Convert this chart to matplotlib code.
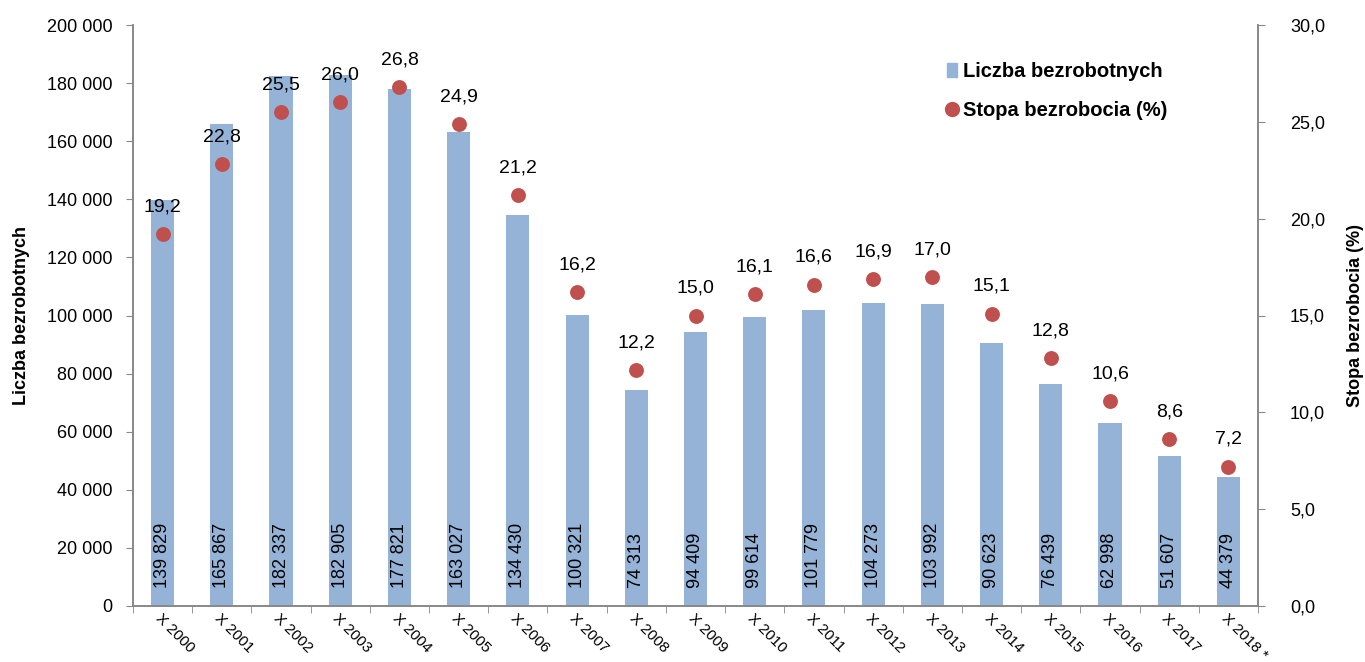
import matplotlib
matplotlib.use("Agg")
import matplotlib.pyplot as plt
from matplotlib.ticker import FuncFormatter, FixedLocator
import numpy as np

plt.rcParams['font.family'] = ['Liberation Sans', 'DejaVu Sans']

years = ["X 2000", "X 2001", "X 2002", "X 2003", "X 2004", "X 2005", "X 2006",
         "X 2007", "X 2008", "X 2009", "X 2010", "X 2011", "X 2012", "X 2013",
         "X 2014", "X 2015", "X 2016", "X 2017", "X 2018 *"]
unemployed = [139829, 165867, 182337, 182905, 177821, 163027, 134430, 100321,
              74313, 94409, 99614, 101779, 104273, 103992, 90623, 76439,
              62998, 51607, 44379]
rate = [19.2, 22.8, 25.5, 26.0, 26.8, 24.9, 21.2, 16.2, 12.2, 15.0, 16.1,
        16.6, 16.9, 17.0, 15.1, 12.8, 10.6, 8.6, 7.2]

bar_color = "#95b3d7"
dot_color = "#c0504d"
spine_color = "#888888"

def pl(v):
    return f"{int(v):,}".replace(",", " ")

fig = plt.figure(figsize=(13.65, 6.62), dpi=100)
ax = fig.add_axes([133 / 1365, 56 / 662, 1125 / 1365, 581 / 662])
ax2 = ax.twinx()

x = np.arange(len(years))
ax.bar(x, unemployed, width=0.39, color=bar_color, zorder=2)
for xi, v in zip(x, unemployed):
    ax.text(xi, 6300, pl(v), rotation=90, ha="center", va="bottom",
            fontsize=13, color="black", zorder=3)

ax2.scatter(x, rate, s=115, color=dot_color, zorder=4, linewidths=0)
for xi, r in zip(x, rate):
    ax2.text(xi, r + 1.4, f"{r:.1f}".replace(".", ","), ha="center",
             va="center", fontsize=14)

ax.set_xlim(-0.5, len(years) - 0.5)
ax.set_ylim(0, 200000)
ax.set_yticks(np.arange(0, 200001, 20000))
ax.yaxis.set_major_formatter(FuncFormatter(lambda v, p: pl(v)))
ax2.set_ylim(0, 30)
ax2.set_yticks(np.arange(0, 30.1, 5))
ax2.yaxis.set_major_formatter(FuncFormatter(lambda v, p: f"{v:.1f}".replace(".", ",")))

ax.set_xticks(x)
ax.set_xticklabels(years, rotation=-45, ha="left", rotation_mode="anchor",
                   fontsize=11)
ax.tick_params(axis="x", length=0, pad=4)
ax.xaxis.set_minor_locator(FixedLocator(np.arange(-0.5, len(years), 1)))
ax.tick_params(axis="x", which="minor", length=5, color=spine_color)
ax.tick_params(axis="y", labelsize=13, length=5, color=spine_color, pad=10)
ax2.tick_params(axis="y", labelsize=13, length=5, color=spine_color, pad=18)

for a in (ax, ax2):
    a.spines["top"].set_visible(False)
    for s in ("left", "right", "bottom"):
        a.spines[s].set_color(spine_color)
        a.spines[s].set_linewidth(1.2)

ax.set_ylabel("Liczba bezrobotnych", fontsize=13, fontweight="bold", labelpad=12)
ax2.set_ylabel("Stopa bezrobocia (%)", fontsize=13, fontweight="bold",
               rotation=90, labelpad=16)

h1 = plt.Rectangle((0, 0), 1, 1, color=bar_color)
h2 = plt.Line2D([], [], marker="o", ls="", color=dot_color, markersize=11,
                markeredgewidth=0)
ax2.legend([h1, h2], ["Liczba bezrobotnych", "Stopa bezrobocia (%)"],
           loc="upper left", bbox_to_anchor=(0.707, 0.967), frameon=False,
           prop={"size": 14.5, "weight": "bold"}, handlelength=0.5,
           handletextpad=0.3, labelspacing=1.0)

fig.savefig("out.png", dpi=100)
